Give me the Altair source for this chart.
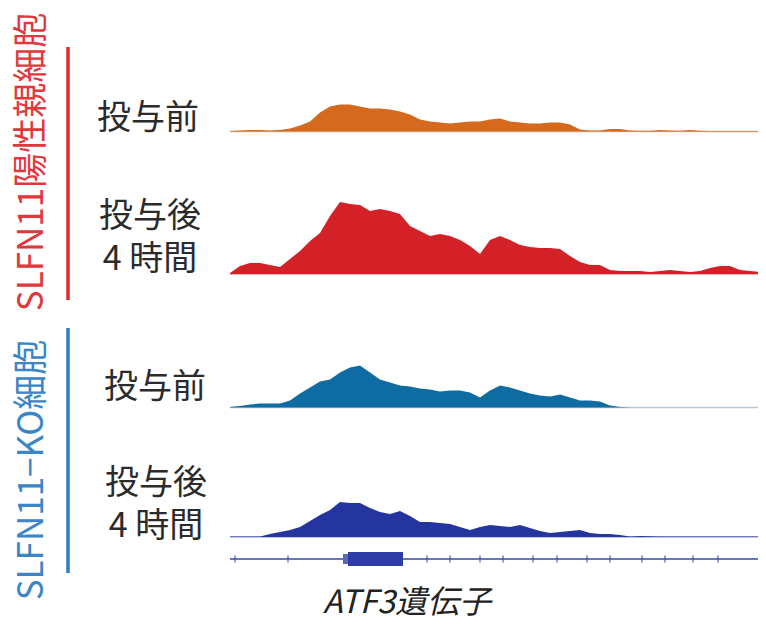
import altair as alt
import pandas as pd

# genomic position (arbitrary units across the ATF3 locus)
positions = list(range(0, 540, 10)) + [536]

track_names = ["parent_pre", "parent_4h", "ko_pre", "ko_4h"]

parent_pre = [0.5, 1, 1.5, 1.5, 1, 1.5, 3, 6, 10, 19,
              25, 27, 27, 25, 23, 23, 22, 20, 17, 12,
              10, 9, 8, 9, 10, 10, 12, 13, 10, 9,
              8, 8, 9, 9, 7, 2, 1, 1, 2.5, 2.5,
              1, 0.7, 0.7, 1.5, 1, 0.7, 1.5, 0.7, 0.5, 0.5,
              0.5, 0.5, 0.5, 0.5, 0.5]
parent_4h = [1, 8, 11, 11, 9, 7, 15, 23, 33, 41,
             58, 72, 70, 69, 63, 65, 63, 60, 48, 43,
             38, 40, 38, 34, 28, 20, 34, 38, 34, 29,
             27, 26, 26, 25, 18, 12, 9, 9, 4, 3,
             3, 3, 2, 3, 4, 3, 2, 3, 6, 8,
             8, 4, 3, 2, 2]
ko_pre = [0.5, 1.5, 3, 4, 4, 4, 7, 14, 20, 26,
          28, 35, 40, 42, 35, 28, 25, 22, 21, 19,
          18, 16, 17, 17, 15, 10, 17, 22, 20, 17,
          14, 12, 11, 13, 10, 7, 7, 6, 2, 0.5,
          0, 0, 0, 0, 0, 0, 0, 0, 0, 0,
          0, 0, 0, 0, 0]
ko_4h = [0.5, 0.5, 0.5, 0.5, 3, 5, 7, 10, 16, 22,
         27, 35, 34, 34, 29, 25, 23, 26, 21, 15,
         15, 14, 13, 10, 7, 10, 12, 11, 10, 12,
         9, 6, 4, 5, 6, 7, 4, 3, 3, 2,
         0.5, 1, 0.8, 0.5, 0.5, 0.5, 0.5, 0.5, 0.5, 0.5,
         0.5, 0.5, 0.5, 0.5, 0.5]

track_colors = ["#D5691D", "#D42127", "#0F6CA3", "#2535A0"]
baseline_colors = ["#D9B9A0", "#E3A0A0", "#B9C7D8", "#A9B0D6"]
# layout: baseline of each track (pixels from top of plot)
track_base = [123.5, 266, 399.5, 529]

# gene model (ATF3)
gene_start, gene_end = 0, 536
utr = (113, 118)
cds = (118, 173)
intron_marks = [5, 58, 197, 220, 250, 273, 303, 327, 357, 380, 412, 435, 463, 488]

rows = []
for name, vals, base in zip(track_names, [parent_pre, parent_4h, ko_pre, ko_4h], track_base):
    for p, v in zip(positions, vals):
        rows.append({"pos": p, "value": v, "track": name, "base": base, "top": base - v})
df = pd.DataFrame(rows)

W, H = 750, 614
xs = alt.Scale(domain=[0, 536], range=[222, 758])
ys = alt.Scale(domain=[0, H], range=[0, H], zero=False)

base_df = pd.DataFrame({"track": track_names, "base": track_base,
                        "x0": [0] * 4, "x1": [536] * 4})

baselines = alt.Chart(base_df).mark_rule(strokeWidth=1.5).encode(
    x=alt.X("x0:Q", scale=xs, axis=None),
    x2="x1:Q",
    y=alt.Y("base:Q", scale=ys, axis=None),
    color=alt.Color("track:N", scale=alt.Scale(domain=track_names, range=baseline_colors), legend=None),
)

areas = alt.Chart(df).mark_area(interpolate="linear").encode(
    x=alt.X("pos:Q", scale=xs, axis=None),
    y=alt.Y("top:Q", scale=ys, axis=None),
    y2="base:Q",
    fill=alt.Fill("track:N", scale=alt.Scale(domain=track_names, range=track_colors), legend=None),
)

gene_line = alt.Chart(pd.DataFrame({"a": [gene_start], "b": [gene_end]})).mark_rule(
    color="#3A47A8", strokeWidth=1.5).encode(
    x=alt.X("a:Q", scale=xs, axis=None), x2="b:Q", y=alt.value(551))

utr_box = alt.Chart(pd.DataFrame({"a": [utr[0]], "b": [utr[1]]})).mark_rect(color="#5A67C0").encode(
    x=alt.X("a:Q", scale=xs, axis=None), x2="b:Q", y=alt.value(546), y2=alt.value(556))

cds_box = alt.Chart(pd.DataFrame({"a": [cds[0]], "b": [cds[1]]})).mark_rect(color="#2E3DA6").encode(
    x=alt.X("a:Q", scale=xs, axis=None), x2="b:Q", y=alt.value(544), y2=alt.value(558))

marks = alt.Chart(pd.DataFrame({"p": intron_marks})).mark_tick(
    color="#3A47A8", thickness=1.5, size=7, orient="vertical").encode(
    x=alt.X("p:Q", scale=xs, axis=None), y=alt.value(551))

JP = "Noto Sans CJK JP"

def label(text, x, y, size=34, color="#2B2B2B", angle=0, italic=False):
    return alt.Chart(pd.DataFrame({"t": [text]})).mark_text(
        font=JP, fontSize=size, color=color, angle=angle, align="center", baseline="middle",
        fontStyle="italic" if italic else "normal",
    ).encode(text="t:N", x=alt.value(x), y=alt.value(y))

labels = [
    label("投与前", 140, 111),
    label("投与後", 142, 209),
    label("4 時間", 142, 252),
    label("投与前", 147, 380),
    label("投与後", 148, 476),
    label("4 時間", 148, 519),
    label("SLFN11陽性親細胞", 24, 154, size=35, color="#E0383D", angle=270),
    label("SLFN11−KO細胞", 24, 462, size=35, color="#3B86C6", angle=270),
    label("ATF3遺伝子", 399, 595, size=32, color="#222222", italic=True),
]

red_bar = alt.Chart(pd.DataFrame({"a": [0]})).mark_rule(color="#E02A2E", strokeWidth=3.5).encode(
    x=alt.value(60), y=alt.value(39), y2=alt.value(292))
blue_bar = alt.Chart(pd.DataFrame({"a": [0]})).mark_rule(color="#2E7EBF", strokeWidth=3.5).encode(
    x=alt.value(60), y=alt.value(320), y2=alt.value(565))

chart = alt.layer(
    baselines, areas, gene_line, utr_box, cds_box, marks, red_bar, blue_bar, *labels
).properties(
    width=W, height=H, padding=0, autosize=alt.AutoSizeParams(type="none"),
    background="white",
).configure_view(stroke=None)

chart.save("out.html", embed_options={"renderer": "svg", "actions": False})
